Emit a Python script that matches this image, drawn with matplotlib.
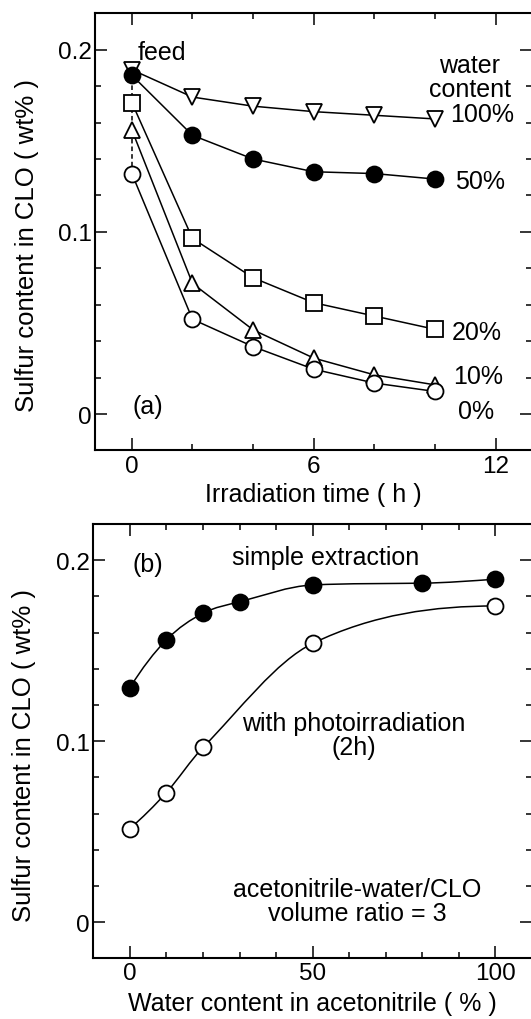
import numpy as np
import matplotlib
matplotlib.use("Agg")
import matplotlib.pyplot as plt
from matplotlib.path import Path
from matplotlib.patches import PathPatch
from matplotlib.ticker import MultipleLocator, FixedLocator

plt.rcParams['font.family'] = ['Liberation Sans', 'DejaVu Sans']

# ---- panel (a): sulfur content vs irradiation time ----
time_h = [0, 2, 4, 6, 8, 10]
water_100 = [0.189, 0.174, 0.169, 0.166, 0.164, 0.162]
water_50 = [0.186, 0.153, 0.140, 0.133, 0.132, 0.129]
water_20 = [0.171, 0.0964, 0.0748, 0.0611, 0.0538, 0.0465]
water_10 = [0.156, 0.0717, 0.0462, 0.0307, 0.0215, 0.016]
water_0 = [0.132, 0.052, 0.037, 0.0246, 0.017, 0.0124]
labels_a = ['100%', '50%', '20%', '10%', '0%']

# ---- panel (b): sulfur content vs water content ----
water_simple = [0, 10, 20, 30, 50, 80, 100]
sulfur_simple = [0.1295, 0.156, 0.1707, 0.177, 0.1863, 0.1873, 0.1895]
water_photo = [0, 10, 20, 50, 100]
sulfur_photo = [0.0517, 0.0716, 0.0965, 0.154, 0.1747]

TICK_FS = 17.5
YLABEL_FS = 18.5
XLABEL_FS = 18
NOTE_FS = 18


def smooth_path(x, y):
    # monotone cubic bezier through the points (Fritsch-Carlson tangents)
    x = np.asarray(x, float)
    y = np.asarray(y, float)
    n = len(x)
    h = np.diff(x)
    d = np.diff(y) / h
    m = np.zeros(n)
    for i in range(1, n - 1):
        m[i] = (y[i + 1] - y[i - 1]) / (x[i + 1] - x[i - 1])
    m0 = ((2 * h[0] + h[1]) * d[0] - h[0] * d[1]) / (h[0] + h[1])
    m[0] = m0 if np.sign(m0) == np.sign(d[0]) else 0
    mn = ((2 * h[-1] + h[-2]) * d[-1] - h[-1] * d[-2]) / (h[-1] + h[-2])
    m[-1] = mn if np.sign(mn) == np.sign(d[-1]) else 0
    for i in range(n - 1):
        a = m[i] / d[i]
        b = m[i + 1] / d[i]
        s = a * a + b * b
        if s > 9:
            tau = 3 / np.sqrt(s)
            m[i] = tau * a * d[i]
            m[i + 1] = tau * b * d[i]
    verts = [(x[0], y[0])]
    codes = [Path.MOVETO]
    for i in range(n - 1):
        verts += [(x[i] + h[i] / 3, y[i] + m[i] * h[i] / 3),
                  (x[i + 1] - h[i] / 3, y[i + 1] - m[i + 1] * h[i] / 3),
                  (x[i + 1], y[i + 1])]
        codes += [Path.CURVE4] * 3
    return Path(verts, codes)


def style_axes(ax, xmajor, xminor):
    for s in ax.spines.values():
        s.set_linewidth(1.5)
    ax.set_ylim(-0.02, 0.22)
    ax.yaxis.set_major_locator(FixedLocator([0, 0.1, 0.2]))
    ax.set_yticklabels(['0', '0.1', '0.2'])
    ax.yaxis.set_minor_locator(MultipleLocator(0.02))
    ax.xaxis.set_major_locator(MultipleLocator(xmajor))
    ax.xaxis.set_minor_locator(MultipleLocator(xminor))
    ax.tick_params(which='both', direction='in', top=True, right=True,
                   width=1.1, labelsize=TICK_FS)
    ax.tick_params(which='major', length=8.5)
    ax.tick_params(which='minor', length=4)
    ax.tick_params(axis='y', pad=2.5)
    ax.tick_params(axis='x', pad=3)
    ax.set_ylabel('Sulfur content in CLO ( wt% )', fontsize=YLABEL_FS)
    ax.yaxis.set_label_coords(-0.13, 0.47)


fig = plt.figure(figsize=(5.31, 10.2), dpi=100)
ax1 = fig.add_axes([0.1798, 0.5574, 0.8221, 0.4286])
ax2 = fig.add_axes([0.1757, 0.0595, 0.8262, 0.4258])

line_kw = dict(color='black', linewidth=1.1, markersize=11.5,
               markeredgewidth=1.3, markeredgecolor='black', zorder=3)

# panel (a)
feed = [water_100[0], water_50[0], water_20[0], water_10[0], water_0[0]]
ax1.plot([time_h[0], time_h[0]], [min(feed), max(feed)], color='black',
         linestyle='--', linewidth=1.1, dashes=(3, 2), zorder=1)
ax1.plot(time_h, water_100, marker='v', markerfacecolor='white', **line_kw)
ax1.plot(time_h, water_50, marker='o', markerfacecolor='black', **line_kw)
ax1.plot(time_h, water_20, marker='s', markerfacecolor='white', **line_kw)
ax1.plot(time_h, water_10, marker='^', markerfacecolor='white', **line_kw)
ax1.plot(time_h, water_0, marker='o', markerfacecolor='white', **line_kw)

ax1.set_xlim(-1.2, 13.2)
style_axes(ax1, 6, 2)
ax1.set_xlabel('Irradiation time ( h )', fontsize=XLABEL_FS, labelpad=4)

label_y = [0.1648, 0.1277, 0.0453, 0.0206, 0.0015]
label_x = [10.49, 10.66, 10.55, 10.6, 10.77]
for lx, ly, lab in zip(label_x, label_y, labels_a):
    ax1.text(lx, ly, lab, fontsize=NOTE_FS, ha='left', va='center')
ax1.text(11.15, 0.185, 'water\ncontent', fontsize=NOTE_FS, ha='center',
         va='center', linespacing=1.0)
ax1.text(1.0, 0.1985, 'feed', fontsize=NOTE_FS, ha='center', va='center')
ax1.text(0.52, 0.0042, '(a)', fontsize=NOTE_FS, ha='center', va='center')

# panel (b)
ax2.add_patch(PathPatch(smooth_path(water_simple, sulfur_simple),
                        fill=False, edgecolor='black', linewidth=1.1, zorder=2))
ax2.add_patch(PathPatch(smooth_path(water_photo, sulfur_photo),
                        fill=False, edgecolor='black', linewidth=1.1, zorder=2))
ax2.plot(water_simple, sulfur_simple, linestyle='none', marker='o',
         markerfacecolor='black', **line_kw)
ax2.plot(water_photo, sulfur_photo, linestyle='none', marker='o',
         markerfacecolor='white', **line_kw)

ax2.set_xlim(-10, 110)
style_axes(ax2, 50, 10)
ax2.set_xlabel('Water content in acetonitrile ( % )', fontsize=XLABEL_FS,
               labelpad=5)

ax2.text(5.0, 0.198, '(b)', fontsize=NOTE_FS, ha='center', va='center')
ax2.text(53.5, 0.202, 'simple extraction', fontsize=NOTE_FS, ha='center',
         va='center')
ax2.text(61.3, 0.1035, 'with photoirradiation\n(2h)', fontsize=NOTE_FS,
         ha='center', va='center', linespacing=1.0)
ax2.text(62.3, 0.0115, 'acetonitrile-water/CLO\nvolume ratio = 3',
         fontsize=NOTE_FS, ha='center', va='center', linespacing=1.0)

fig.savefig('out.png', dpi=100)
